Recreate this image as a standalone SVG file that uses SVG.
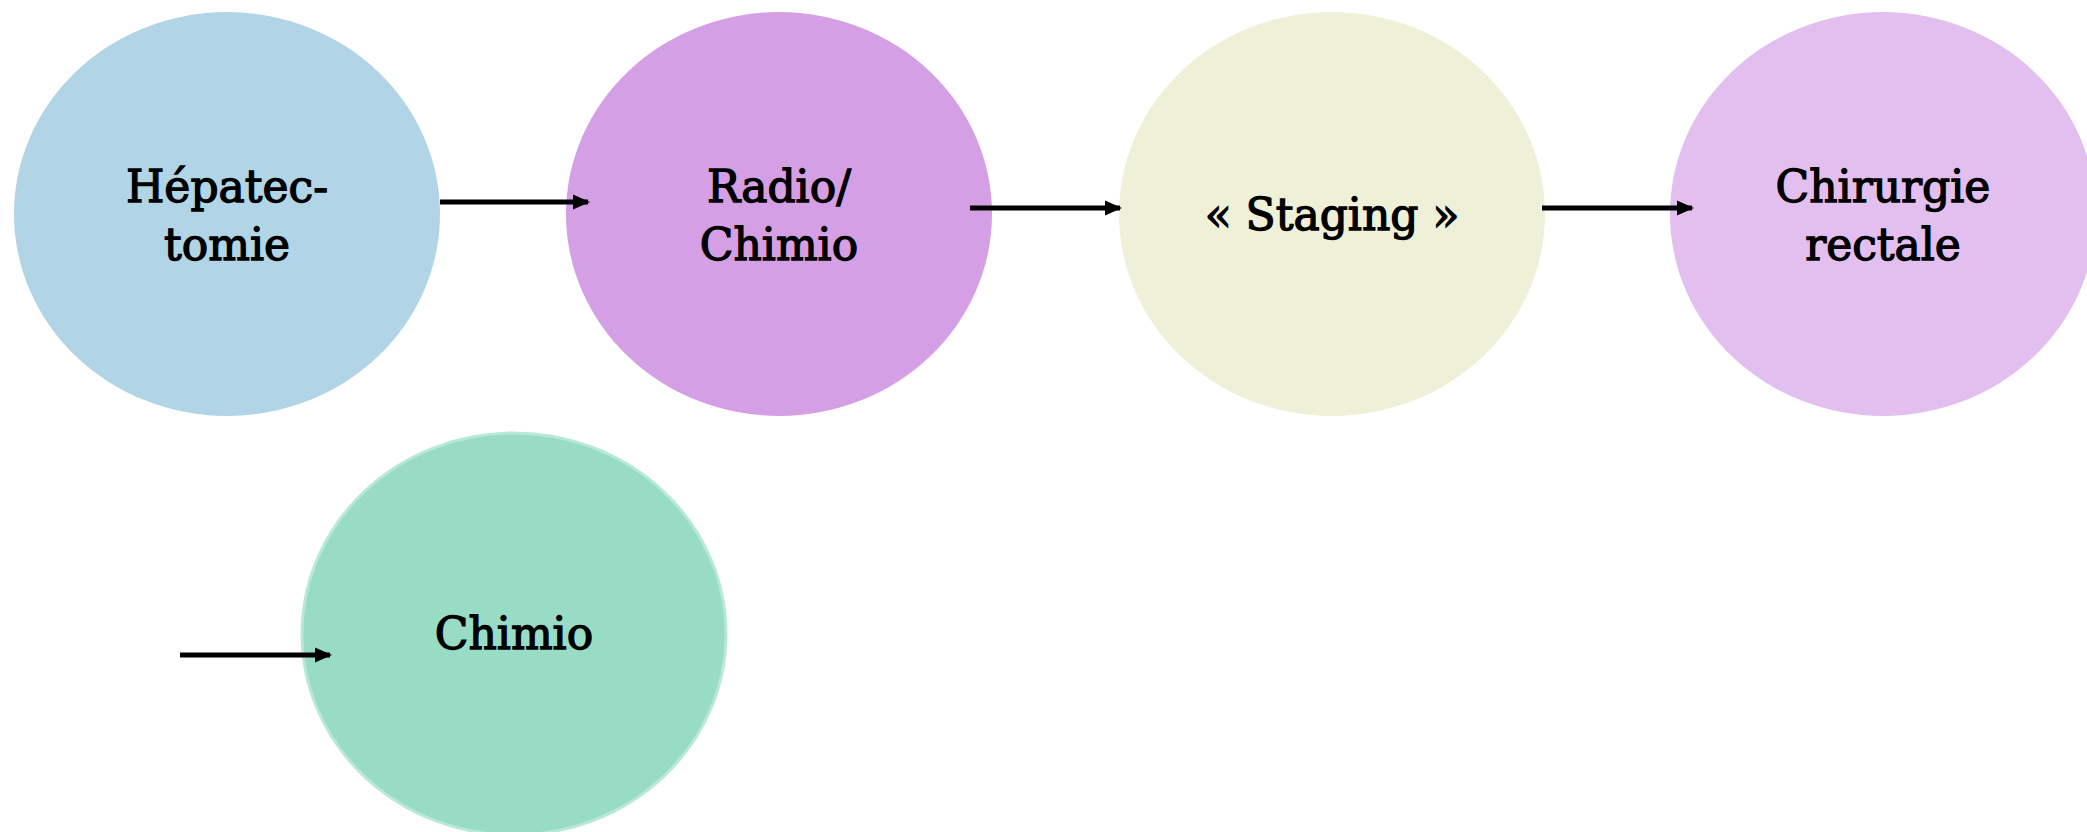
<svg xmlns="http://www.w3.org/2000/svg" width="2087" height="832" viewBox="0 0 2087 832">
<style>
.lbl{font-family:"DejaVu Serif","Liberation Serif",serif;font-size:44px;fill:#000;stroke:#000;stroke-width:1.3;text-anchor:middle}
.conn{stroke:#000;stroke-width:5;fill:none}
</style>
<defs>
<marker id="ah" markerUnits="userSpaceOnUse" markerWidth="17" markerHeight="16" refX="15" refY="8" orient="auto">
<path d="M0,0.5 L17,8 L0,15.5 z" fill="#000"/>
</marker>
</defs>
<rect width="2087" height="832" fill="#fff"/>
<g id="n1">
<ellipse cx="227" cy="214" rx="213" ry="202" fill="#b1d4e6"/>
<text class="lbl" x="227" y="202">Hépatec-</text>
<text class="lbl" x="227" y="260">tomie</text>
</g>
<g id="n2">
<ellipse cx="779" cy="214" rx="213" ry="202" fill="#d49fe4"/>
<text class="lbl" x="779" y="202">Radio/</text>
<text class="lbl" x="779" y="260">Chimio</text>
</g>
<g id="n3">
<ellipse cx="1332" cy="214" rx="213" ry="202" fill="#eef0d8"/>
<text class="lbl" x="1332" y="230">« Staging »</text>
</g>
<g id="n4">
<ellipse cx="1883" cy="214" rx="213" ry="202" fill="#e2bfef"/>
<text class="lbl" x="1883" y="202">Chirurgie</text>
<text class="lbl" x="1883" y="260">rectale</text>
</g>
<g id="n5">
<ellipse cx="514" cy="634" rx="212" ry="201" fill="#98dcc6" stroke="#b8e8d8" stroke-width="3"/>
<text class="lbl" x="514" y="649">Chimio</text>
</g>
<g id="connectors">
<line class="conn" x1="440" y1="202" x2="588" y2="202" marker-end="url(#ah)"/>
<line class="conn" x1="970" y1="208" x2="1120" y2="208" marker-end="url(#ah)"/>
<line class="conn" x1="1542" y1="208" x2="1692" y2="208" marker-end="url(#ah)"/>
<line class="conn" x1="180" y1="655" x2="330" y2="655" marker-end="url(#ah)"/>
</g>
</svg>
